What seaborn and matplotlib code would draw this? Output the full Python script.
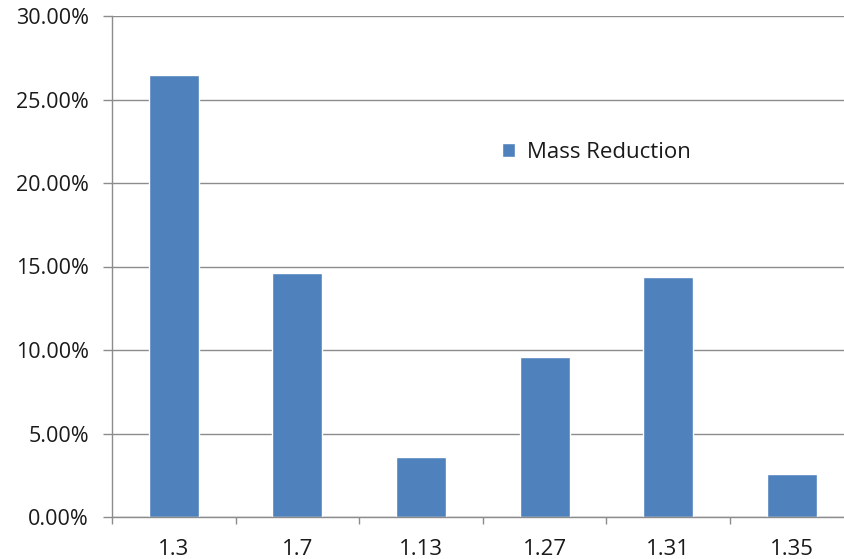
import matplotlib
matplotlib.use("Agg")
import matplotlib.pyplot as plt
import matplotlib.ticker as mticker
import seaborn as sns
import pandas as pd
import numpy as np

categories = ["1.3", "1.7", "1.13", "1.27", "1.31", "1.35"]
mass_reduction = [26.47, 14.61, 3.59, 9.58, 14.37, 2.59]  # percent
series_name = "Mass Reduction"
y_ticks = [0, 5, 10, 15, 20, 25, 30]

sns.set_style("white")
plt.rcParams['font.family'] = ['Open Sans', 'DejaVu Sans']

df = pd.DataFrame({"cat": categories, "val": mass_reduction, "series": series_name})

fig = plt.figure(figsize=(8.45, 5.59), dpi=100)
ax = fig.add_axes([112/845, 1-517/559, 741.6/845, 501/559])

sns.barplot(data=df, x="cat", y="val", hue="series", order=categories,
            palette=["#4F81BD"], width=0.405, ax=ax, saturation=1, zorder=3)

ax.set_xlim(-0.5, len(categories) - 0.5)
ax.set_ylim(0, 30)
ax.set_yticks(y_ticks)
ax.yaxis.set_major_formatter(mticker.FuncFormatter(lambda v, p: f"{v:.2f}%"))
ax.grid(axis="y", color="#8C8C8C", linewidth=1.0, zorder=0)
ax.set_axisbelow(True)

for s in ["top", "right"]:
    ax.spines[s].set_visible(False)
for s in ["left", "bottom"]:
    ax.spines[s].set_color("#8C8C8C")
    ax.spines[s].set_linewidth(1.0)
    ax.spines[s].set_zorder(4)

ax.tick_params(axis="y", length=6.5, color="#8C8C8C", width=1.0, labelsize=15.5, pad=10, labelcolor="#1a1a1a", left=True)
ax.set_xticks(np.arange(-0.5, len(categories), 1.0), minor=True)
ax.tick_params(axis="x", which="minor", length=5, color="#8C8C8C", width=1.0, bottom=True)
ax.tick_params(axis="x", which="major", length=0, labelsize=16, pad=16, labelcolor="#1a1a1a")
ax.set_xlabel("")
ax.set_ylabel("")

leg = ax.legend(loc="upper left", bbox_to_anchor=((493-112)/741.6, (517-133)/501),
                frameon=False, fontsize=16, handlelength=0.6, handleheight=0.6,
                handletextpad=0.55, borderaxespad=0)
for t in leg.get_texts():
    t.set_color("#1a1a1a")

fig.savefig("out.png", dpi=100)
